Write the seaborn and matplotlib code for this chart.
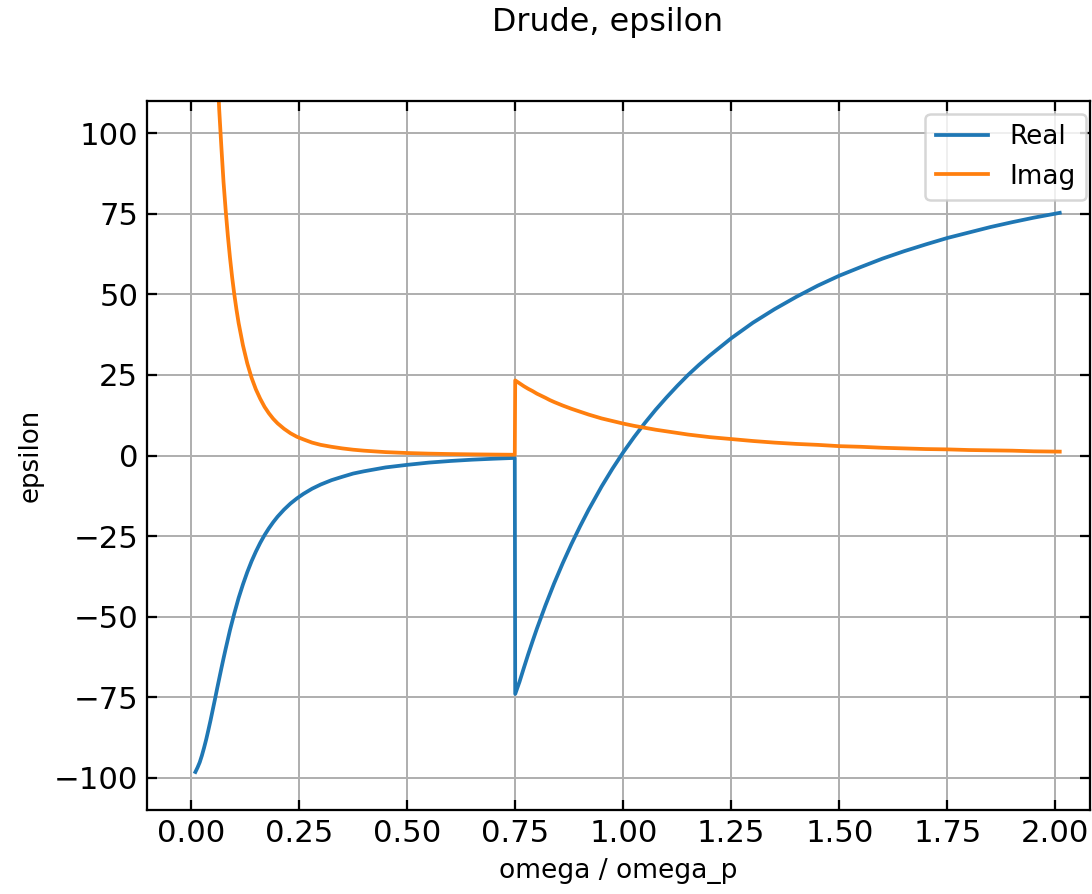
import numpy as np
import pandas as pd
import matplotlib
matplotlib.use("Agg")
import matplotlib.pyplot as plt
import seaborn as sns

# ---- data ----
real_x = [0.01, 0.015, 0.02, 0.025, 0.03, 0.035, 0.04, 0.045, 0.05,
          0.055, 0.06, 0.065, 0.07, 0.075, 0.08, 0.085, 0.09, 0.10, 0.11,
          0.12, 0.13, 0.14, 0.15, 0.16, 0.17, 0.18, 0.19, 0.20, 0.215,
          0.23, 0.245, 0.26, 0.28, 0.30, 0.325, 0.35, 0.375, 0.40, 0.45,
          0.50, 0.55, 0.60, 0.65, 0.70, 0.749,
          0.75, 0.76, 0.77, 0.78, 0.79, 0.80, 0.82, 0.83, 0.84, 0.86,
          0.88, 0.90, 0.92, 0.95, 0.975, 1.00, 1.025, 1.05, 1.075, 1.10,
          1.125, 1.15, 1.175, 1.20, 1.25, 1.30, 1.35, 1.40, 1.45, 1.50,
          1.55, 1.60, 1.65, 1.70, 1.75, 1.80, 1.85, 1.90, 1.95, 2.01]
real_y = [-98.2, -96.8, -95.2, -93.1, -90.7, -88.1, -85.2, -82.2, -79.0,
          -75.8, -72.5, -69.3, -66.1, -63.0, -60.0, -57.1, -54.2, -49.0, -44.2,
          -40.0, -36.2, -32.8, -29.8, -27.1, -24.7, -22.6, -20.7, -19.0, -16.8,
          -14.9, -13.3, -11.9, -10.3, -9.0, -7.65, -6.6, -5.6, -4.9, -3.7,
          -2.9, -2.2, -1.7, -1.3, -1.0, -0.75,
          -74.0, -70.2, -65.9, -61.7, -57.7, -53.8, -46.5, -43.1, -39.7, -33.4,
          -27.5, -22.0, -16.8, -9.6, -4.1, 1.0, 5.7, 10.1, 14.2, 18.0,
          21.6, 25.0, 28.1, 31.0, 36.4, 41.2, 45.4, 49.2, 52.7, 55.8,
          58.5, 61.1, 63.4, 65.5, 67.5, 69.2, 70.9, 72.4, 73.8, 75.3]

imag_x = [0.03, 0.04, 0.05, 0.055, 0.06, 0.065, 0.07, 0.075, 0.08, 0.085,
          0.09, 0.095, 0.10, 0.105, 0.11, 0.12, 0.13, 0.14, 0.15, 0.16,
          0.17, 0.18, 0.19, 0.20, 0.215, 0.23, 0.245, 0.26, 0.28, 0.30,
          0.325, 0.35, 0.375, 0.40, 0.45, 0.50, 0.55, 0.60, 0.65, 0.70, 0.749,
          0.75, 0.76, 0.77, 0.78, 0.79, 0.80, 0.82, 0.83, 0.84, 0.86,
          0.88, 0.90, 0.92, 0.95, 0.975, 1.00, 1.025, 1.05, 1.075, 1.10,
          1.125, 1.15, 1.175, 1.20, 1.25, 1.30, 1.35, 1.40, 1.45, 1.50,
          1.55, 1.60, 1.65, 1.70, 1.75, 1.80, 1.85, 1.90, 1.95, 2.01]
imag_y = [305.8, 215.5, 160.0, 139.6, 122.5, 107.5, 95.9, 85.0, 76.2, 68.3,
          61.4, 55.3, 50.0, 45.3, 41.1, 34.2, 28.6, 24.1, 20.5, 17.6,
          15.1, 13.1, 11.4, 10.0, 8.3, 6.9, 5.8, 5.0, 4.0, 3.3,
          2.7, 2.2, 1.8, 1.5, 1.05, 0.77, 0.58, 0.45, 0.36, 0.29, 0.23,
          23.3, 22.4, 21.5, 20.7, 20.0, 19.2, 17.9, 17.2, 16.6, 15.5,
          14.5, 13.6, 12.7, 11.5, 10.7, 9.9, 9.2, 8.6, 8.0, 7.5,
          7.0, 6.5, 6.1, 5.7, 5.1, 4.5, 4.0, 3.6, 3.3, 2.9,
          2.7, 2.4, 2.2, 2.0, 1.9, 1.7, 1.6, 1.5, 1.3, 1.2]

series_names = ["Real", "Imag"]
y_ticks = [-100, -75, -50, -25, 0, 25, 50, 75, 100]
x_ticks = [0.00, 0.25, 0.50, 0.75, 1.00, 1.25, 1.50, 1.75, 2.00]

df = pd.concat([
    pd.DataFrame({"omega": real_x, "eps": real_y, "part": series_names[0]}),
    pd.DataFrame({"omega": imag_x, "eps": imag_y, "part": series_names[1]}),
], ignore_index=True)

plt.rcParams["font.family"] = ["DejaVu Sans"]

W, H = 1092, 894
fig = plt.figure(figsize=(W / 180, H / 180), dpi=180)
ax = fig.add_axes([147 / W, 1 - 810 / H, (1090 - 147) / W, (810 - 101) / H])

sns.lineplot(data=df, x="omega", y="eps", hue="part", hue_order=series_names,
             palette=["#1f77b4", "#ff7f0e"], estimator=None, sort=False,
             linewidth=1.5, ax=ax)

ax.set_xlim(-0.102, 2.08)
ax.set_ylim(-110, 110)
ax.set_xticks(x_ticks)
ax.set_yticks(y_ticks)
ax.grid(True, color="#b0b0b0", linewidth=0.8)
ax.set_axisbelow(True)
ax.tick_params(direction="in", top=True, right=True, length=4, width=0.9,
               labelsize=12.3)
for s in ax.spines.values():
    s.set_linewidth(0.9)

ax.set_xlabel("omega / omega_p", fontsize=10.6)
ax.set_ylabel("epsilon", fontsize=10.4)

handles, labels = ax.get_legend_handles_labels()
ax.legend(handles, labels, loc="upper right", fontsize=10.5,
          bbox_to_anchor=(1086 / W, 1 - 114 / H), bbox_transform=fig.transFigure,
          borderaxespad=0)

fig.suptitle("Drude, epsilon", x=608 / W, y=1 - 23 / H, va="center", fontsize=12.7)

fig.savefig("out.png", dpi=180)
